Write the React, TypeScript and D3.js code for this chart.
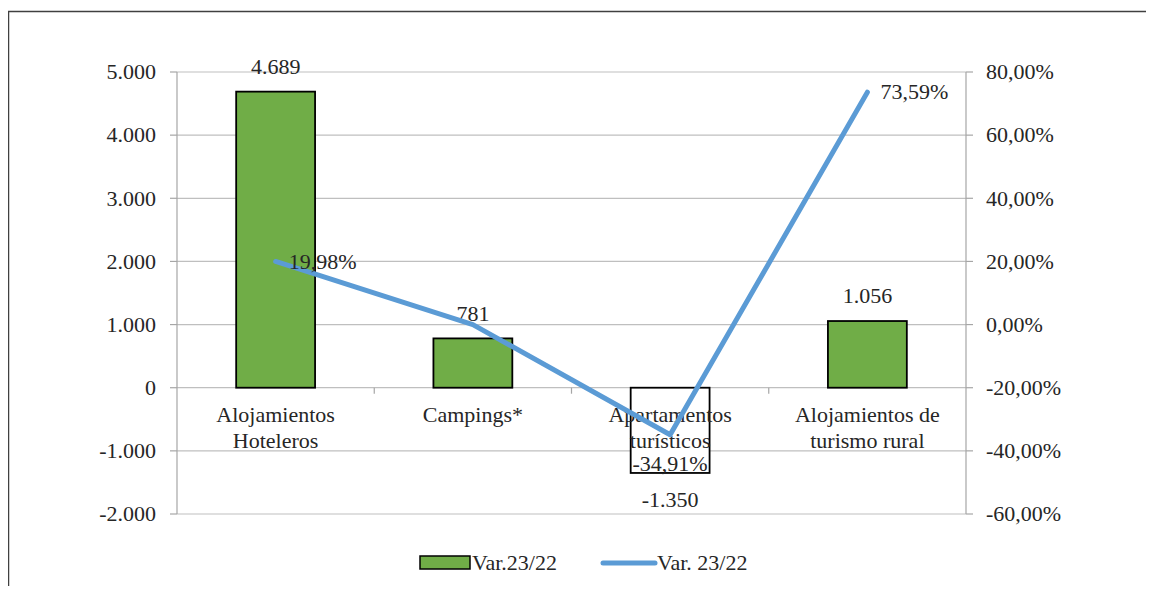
import React from 'react'
import { scaleBand, scaleLinear, line } from 'd3'

const categories = [['Alojamientos', 'Hoteleros'], ['Campings*'], ['Apartamentos', 'turísticos'], ['Alojamientos de', 'turismo rural']]
const barValues = [4689, 781, -1350, 1056]
const barLabels = ['4.689', '781', '-1.350', '1.056']
const pctValues = [19.98, 0, -34.91, 73.59]
const pctLabels = ['19,98%', '', '-34,91%', '73,59%']
const leftTicks = [-2000, -1000, 0, 1000, 2000, 3000, 4000, 5000]
const leftTickLabels = ['-2.000', '-1.000', '0', '1.000', '2.000', '3.000', '4.000', '5.000']
const rightTicks = [-60, -40, -20, 0, 20, 40, 60, 80]
const rightTickLabels = ['-60,00%', '-40,00%', '-20,00%', '0,00%', '20,00%', '40,00%', '60,00%', '80,00%']
const legendLabels = ['Var.23/22', 'Var. 23/22']

const WIDTH = 1154
const HEIGHT = 594
const FONT = 'Liberation Serif'
const FS = 22
const GREEN = '#70AD47'
const BLUE = '#5B9BD5'

export default function App(): JSX.Element {
  const left = 177
  const right = 966
  const top = 72
  const bottom = 514

  const x = scaleBand<number>().domain(categories.map((_c, i) => i)).range([left, right])
  const y = scaleLinear().domain([-2000, 5000]).range([bottom, top])
  const y2 = scaleLinear().domain([-60, 80]).range([bottom, top])
  const barW = x.bandwidth() * 0.4
  const cx = (i: number) => (x(i) as number) + x.bandwidth() / 2

  const lineFn = line<number>()
    .x((_d, i) => cx(i))
    .y((d) => y2(d))

  const txt = { fontFamily: FONT, fontSize: FS, fill: '#262626' }

  return (
    <div style={{ margin: '-8px' }}>
      <svg width={WIDTH} height={HEIGHT} xmlns="http://www.w3.org/2000/svg" style={{ display: 'block' }}>
        <rect width={WIDTH} height={HEIGHT} fill="#fff" />
        {/* outer frame */}
        <path d={`M8.5,${HEIGHT} V11.5 H${WIDTH}`} fill="none" stroke="#404040" strokeWidth={1.5} />

        {/* grid */}
        {leftTicks.map((t) => (
          <line key={t} x1={left} x2={right} y1={y(t)} y2={y(t)} stroke="#BFBFBF" strokeWidth={1.2} />
        ))}
        {/* axes */}
        <line x1={left} x2={left} y1={top} y2={bottom} stroke="#A6A6A6" strokeWidth={1.2} />
        <line x1={right} x2={right} y1={top} y2={bottom} stroke="#A6A6A6" strokeWidth={1.2} />
        {leftTicks.map((t, i) => (
          <g key={'l' + t}>
            <line x1={left - 7} x2={left} y1={y(t)} y2={y(t)} stroke="#A6A6A6" strokeWidth={1.2} />
            <text x={156} y={y(t)} dy="0.33em" textAnchor="end" {...txt}>
              {leftTickLabels[i]}
            </text>
          </g>
        ))}
        {rightTicks.map((t, i) => (
          <g key={'r' + t}>
            <line x1={right} x2={right + 7} y1={y2(t)} y2={y2(t)} stroke="#A6A6A6" strokeWidth={1.2} />
            <text x={986} y={y2(t)} dy="0.33em" textAnchor="start" {...txt}>
              {rightTickLabels[i]}
            </text>
          </g>
        ))}
        {/* category ticks on zero line */}
        {categories.slice(1).map((_c, i) => (
          <line key={'c' + i} x1={x(i + 1)} x2={x(i + 1)} y1={y(0)} y2={y(0) + 6} stroke="#A6A6A6" strokeWidth={1.2} />
        ))}

        {/* bars */}
        {barValues.map((v, i) => (
          <rect
            key={'b' + i}
            x={cx(i) - barW / 2}
            y={y(Math.max(0, v))}
            width={barW}
            height={Math.abs(y(v) - y(0))}
            fill={v < 0 ? '#fff' : GREEN}
            stroke="#000"
            strokeWidth={1.8}
          />
        ))}
        {barValues.map((v, i) => (
          <text key={'bl' + i} x={cx(i)} y={v < 0 ? y(v) + 27 : y(v) - 25} dy="0.33em" textAnchor="middle" {...txt}>
            {barLabels[i]}
          </text>
        ))}

        {/* category labels */}
        {categories.map((c, i) => (
          <text key={'cl' + i} x={cx(i)} y={415} textAnchor="middle" {...txt}>
            {c.map((s, j) => (
              <tspan key={j} x={cx(i)} dy={j === 0 ? '0.33em' : 26}>
                {s}
              </tspan>
            ))}
          </text>
        ))}

        {/* line */}
        <path d={lineFn(pctValues) || ''} fill="none" stroke={BLUE} strokeWidth={5} strokeLinejoin="round" strokeLinecap="round" />
        {pctValues.map((v, i) => {
          if (!pctLabels[i]) return null
          const below = v < 0
          return (
            <text
              key={'pl' + i}
              x={below ? cx(i) : cx(i) + 13}
              y={below ? y2(v) + 29 : y2(v)}
              dy="0.33em"
              textAnchor={below ? 'middle' : 'start'}
              {...txt}
            >
              {pctLabels[i]}
            </text>
          )
        })}

        {/* legend */}
        <rect x={420} y={556} width={50} height={13} fill={GREEN} stroke="#000" strokeWidth={1.5} />
        <text x={472} y={563} dy="0.33em" {...txt}>
          {legendLabels[0]}
        </text>
        <line x1={603} x2={655} y1={563} y2={563} stroke={BLUE} strokeWidth={5} strokeLinecap="round" />
        <text x={657} y={563} dy="0.33em" {...txt}>
          {legendLabels[1]}
        </text>
      </svg>
    </div>
  )
}
